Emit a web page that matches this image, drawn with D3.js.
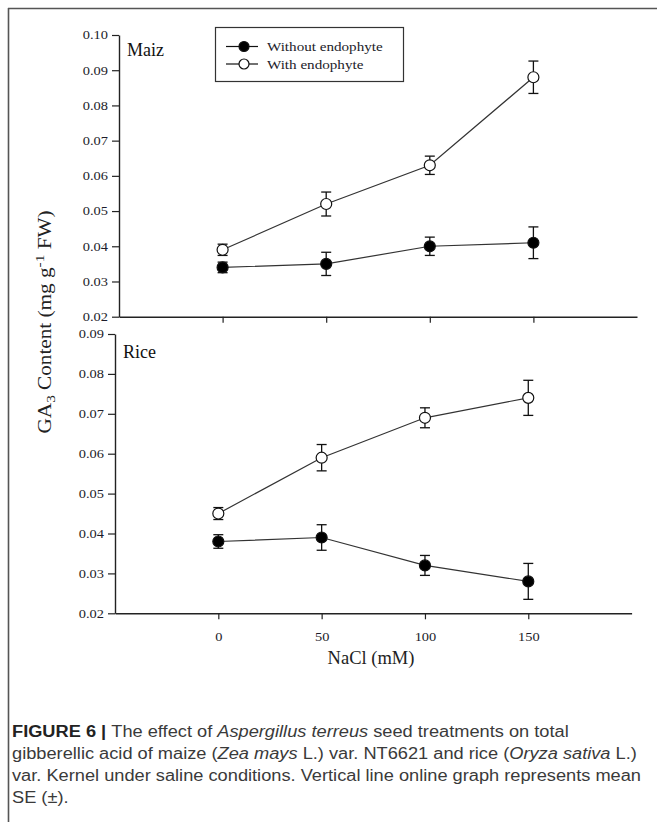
<!DOCTYPE html>
<html>
<head>
<meta charset="utf-8">
<script src="https://cdn.jsdelivr.net/npm/d3@7"></script>
<style>
    body { margin: 0; background: #fff; }
    svg { display: block; }
    .serif { font-family: "Liberation Serif", "Times New Roman", serif; }
</style>
</head>
<body>
<svg id="chart" width="657" height="822"></svg>
<script>
// NaCl treatment levels (mM)
var nacl = [0, 50, 100, 150];
var xTickLabels = ["0", "50", "100", "150"];

// Maiz panel
var maizWithout = [0.034, 0.035, 0.040, 0.041];
var maizWithoutSE = [0.0015, 0.0033, 0.0026, 0.0045];
var maizWith = [0.039, 0.052, 0.063, 0.088];
var maizWithSE = [0.0016, 0.0034, 0.0026, 0.0046];
var maizTicks = [0.02, 0.03, 0.04, 0.05, 0.06, 0.07, 0.08, 0.09, 0.10];

// Rice panel
var riceWithout = [0.038, 0.039, 0.032, 0.028];
var riceWithoutSE = [0.0017, 0.0032, 0.0025, 0.0045];
var riceWith = [0.045, 0.059, 0.069, 0.074];
var riceWithSE = [0.0015, 0.0033, 0.0025, 0.0044];
var riceTicks = [0.02, 0.03, 0.04, 0.05, 0.06, 0.07, 0.08, 0.09];

var seriesNames = ["Without endophyte", "With endophyte"];

var svg = d3.select("#chart");
var ink = "#222";

// stretch text horizontally a bit, the original fonts are wider than ours
function stretch(sel, k) {
    sel.each(function () {
        var w = this.getComputedTextLength();
        d3.select(this).attr("textLength", w * k).attr("lengthAdjust", "spacingAndGlyphs");
    });
}

// frame lines (top + left only, figure is cropped)
svg.append("line").attr("x1", 8).attr("x2", 657).attr("y1", 8.5).attr("y2", 8.5)
    .attr("stroke", "#555").attr("stroke-width", 1.6);
svg.append("line").attr("x1", 8.5).attr("x2", 8.5).attr("y1", 8).attr("y2", 822)
    .attr("stroke", "#555").attr("stroke-width", 1.6);

function drawPanel(opt) {
    var x = d3.scaleLinear().domain([-50, 200]).range([opt.left, opt.right]);
    var y = d3.scaleLinear().domain([0.02, opt.yMax]).range([opt.bottom, opt.top]);

    var g = svg.append("g");

    var yAxis = g.append("g")
        .attr("transform", "translate(" + opt.left + ",0)")
        .call(d3.axisLeft(y).tickValues(opt.ticks).tickFormat(d3.format(".2f"))
            .tickSize(7).tickSizeOuter(0).tickPadding(4));
    var xAxis = g.append("g")
        .attr("transform", "translate(0," + opt.bottom + ")")
        .call(d3.axisBottom(x).tickValues(nacl)
            .tickFormat(opt.xLabels ? function (d, i) { return xTickLabels[i]; } : "")
            .tickSize(6).tickSizeOuter(0).tickPadding(13));

    [yAxis, xAxis].forEach(function (a) {
        a.select(".domain").attr("stroke", ink).attr("stroke-width", 1.4);
        a.selectAll(".tick line").attr("stroke", ink).attr("stroke-width", 1.2);
        a.selectAll(".tick text")
            .attr("class", "serif")
            .attr("font-size", "12px")
            .attr("fill", "#1c1c2a")
            .call(stretch, 1.2);
    });

    g.append("text")
        .attr("class", "serif")
        .attr("x", opt.left + 8)
        .attr("y", opt.top + opt.labelDy)
        .attr("font-size", "18px")
        .attr("fill", "#111")
        .text(opt.label);

    var series = [
        { vals: opt.without, se: opt.withoutSE, fill: "#000" },
        { vals: opt.withE, se: opt.withSE, fill: "#fff" }
    ];

    series.forEach(function (s) {
        var pts = nacl.map(function (n, i) { return { x: n, v: s.vals[i], e: s.se[i] }; });

        var eb = g.append("g").selectAll("g").data(pts).enter().append("g")
            .attr("stroke", "#111").attr("stroke-width", 1.3);
        eb.append("line")
            .attr("x1", d => x(d.x)).attr("x2", d => x(d.x))
            .attr("y1", d => y(d.v + d.e)).attr("y2", d => y(d.v - d.e));
        eb.append("line")
            .attr("x1", d => x(d.x) - 5).attr("x2", d => x(d.x) + 5)
            .attr("y1", d => y(d.v + d.e)).attr("y2", d => y(d.v + d.e));
        eb.append("line")
            .attr("x1", d => x(d.x) - 5).attr("x2", d => x(d.x) + 5)
            .attr("y1", d => y(d.v - d.e)).attr("y2", d => y(d.v - d.e));

        g.append("path")
            .datum(pts)
            .attr("fill", "none")
            .attr("stroke", "#333")
            .attr("stroke-width", 1.2)
            .attr("d", d3.line().x(d => x(d.x)).y(d => y(d.v)));

        g.append("g").selectAll("circle").data(pts).enter().append("circle")
            .attr("cx", d => x(d.x))
            .attr("cy", d => y(d.v))
            .attr("r", 5.5)
            .attr("fill", s.fill)
            .attr("stroke", "#111")
            .attr("stroke-width", 1.2);
    });
}

drawPanel({
    left: 119, right: 637, top: 35, bottom: 316.7, yMax: 0.10, ticks: maizTicks,
    without: maizWithout, withoutSE: maizWithoutSE, withE: maizWith, withSE: maizWithSE,
    label: "Maiz", labelDy: 21, xLabels: false
});
drawPanel({
    left: 115, right: 631.6, top: 334, bottom: 613.3, yMax: 0.09, ticks: riceTicks,
    without: riceWithout, withoutSE: riceWithoutSE, withE: riceWith, withSE: riceWithSE,
    label: "Rice", labelDy: 24, xLabels: true
});

// legend
var legend = svg.append("g");
legend.append("rect")
    .attr("x", 215.5).attr("y", 27.5).attr("width", 188).attr("height", 54)
    .attr("fill", "#fff").attr("stroke", "#333").attr("stroke-width", 1.2);
var rows = legend.selectAll(".row").data(seriesNames).enter().append("g")
    .attr("transform", (d, i) => "translate(0," + (46.5 + i * 17.5) + ")");
rows.append("line").attr("x1", 226).attr("x2", 258).attr("y1", 0).attr("y2", 0)
    .attr("stroke", "#111").attr("stroke-width", 1.2);
rows.append("circle").attr("cx", 244).attr("cy", 0).attr("r", 5)
    .attr("fill", (d, i) => i === 0 ? "#000" : "#fff")
    .attr("stroke", "#111").attr("stroke-width", 1.2);
rows.append("text")
    .attr("class", "serif")
    .attr("x", 267).attr("y", 4.5)
    .attr("font-size", "13.5px")
    .attr("fill", "#1c1c2a")
    .text(d => d)
    .call(stretch, 1.12);

// axis titles
var yTitle = svg.append("text")
    .attr("class", "serif")
    .attr("transform", "translate(51,322) rotate(-90)")
    .attr("text-anchor", "middle")
    .attr("font-size", "18px")
    .attr("fill", "#222");
yTitle.append("tspan").text("GA");
yTitle.append("tspan").attr("font-size", "13px").attr("dy", 4).text("3");
yTitle.append("tspan").attr("dy", -4).text(" Content (mg g");
yTitle.append("tspan").attr("font-size", "13px").attr("dy", -7).text("-1");
yTitle.append("tspan").attr("dy", 7).text(" FW)");
// reference title runs from y=210 to y=433
yTitle.attr("textLength", 223).attr("lengthAdjust", "spacingAndGlyphs");

svg.append("text")
    .attr("class", "serif")
    .attr("x", 371).attr("y", 664)
    .attr("text-anchor", "middle")
    .attr("font-size", "18.5px")
    .attr("fill", "#222")
    .text("NaCl (mM)");

// caption
var capLines = [
    [["FIGURE 6 | ", "b"], ["The effect of ", ""], ["Aspergillus terreus", "i"], [" seed treatments on total", ""]],
    [["gibberellic acid of maize (", ""], ["Zea mays", "i"], [" L.) var. NT6621 and rice (", ""], ["Oryza sativa", "i"], [" L.)", ""]],
    [["var. Kernel under saline conditions. Vertical line online graph represents mean", ""]],
    [["SE (\u00b1).", ""]]
];
var cap = svg.append("g")
    .attr("font-family", "'Liberation Sans', Arial, sans-serif")
    .attr("font-size", "16px")
    .attr("fill", "#3a3a3a");
var capText = [];
capLines.forEach(function (line, i) {
    var t = cap.append("text").attr("x", 12).attr("y", 737 + i * 22);
    line.forEach(function (part) {
        var ts = t.append("tspan").text(part[0]);
        if (part[1] === "b") ts.attr("font-weight", "bold").attr("fill", "#222");
        if (part[1] === "i") ts.attr("font-style", "italic");
    });
    capText.push(t);
});
// third line should end near x=641, widen all lines by the same factor
var k = 629 / capText[2].node().getComputedTextLength();
capText.forEach(function (t) { t.call(stretch, k); });
</script>
</body>
</html>
